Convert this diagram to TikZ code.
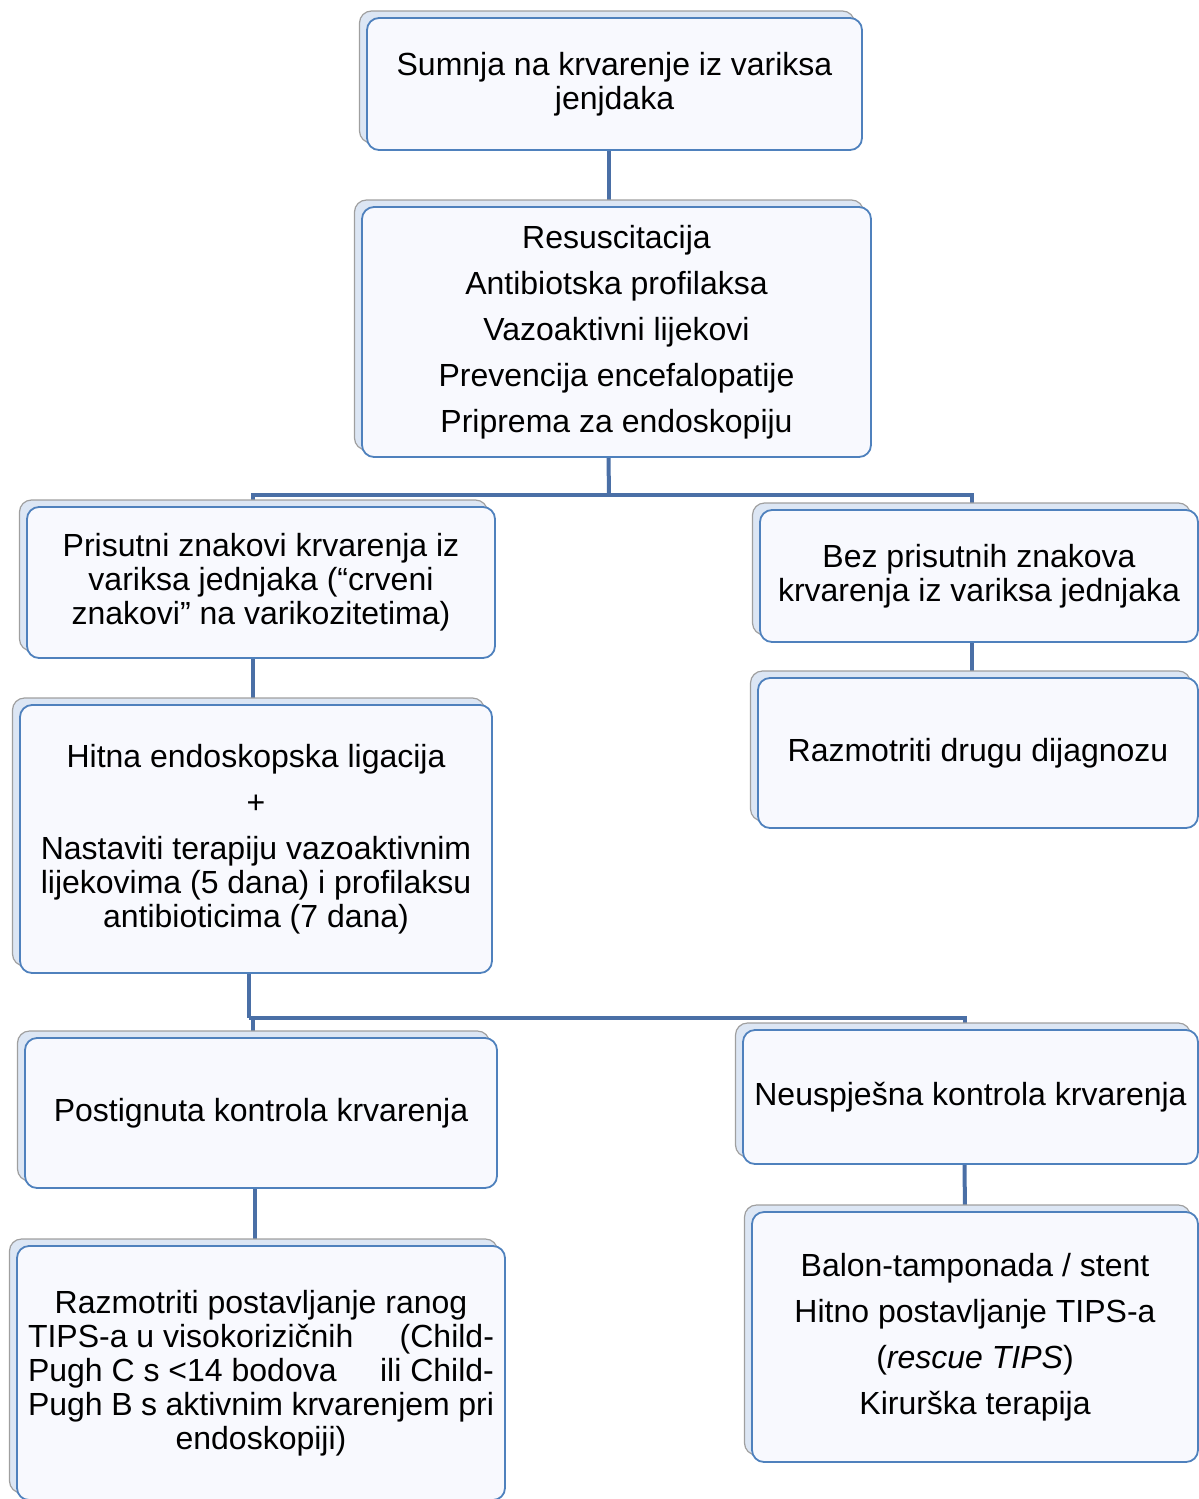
\documentclass[tikz,border=0pt]{standalone}
\usepackage{fontspec}
\setmainfont{Liberation Sans}
\usetikzlibrary{shadows,backgrounds}

\definecolor{boxline}{HTML}{4F81BD}
\definecolor{boxfill}{HTML}{F8F9FE}
\definecolor{backfill}{HTML}{DCE6F4}
\definecolor{connline}{HTML}{4A6FA6}

\begin{document}
\begin{tikzpicture}[x=0.5pt,y=-0.5pt,
  every node/.style={font=\fontsize{16}{17}\selectfont},
  card/.style={draw=boxline,line width=0.9pt,fill=boxfill,rounded corners=6pt,align=center,inner sep=0pt,
    copy shadow={shadow xshift=-3.75pt,shadow yshift=3.5pt,fill=backfill,draw=gray!75,line width=0.6pt}},
  conn/.style={draw=connline,line width=2pt}]
\clip (0,0) rectangle (1199,1499);
\useasboundingbox (0,0) rectangle (1199,1499);
% boxes
\node[card,minimum width=247.5pt,minimum height=66pt] (top) at (614.5,84){Sumnja na krvarenje iz variksa\\ jenjdaka};
\node[card,minimum width=254.5pt,minimum height=125pt] (resus) at (616.5,332){Resuscitacija\\[6pt] Antibiotska profilaksa\\[6pt] Vazoaktivni lijekovi\\[6pt] Prevencija encefalopatije\\[6pt] Priprema za endoskopiju};
\node[card,minimum width=234pt,minimum height=75.5pt] (prisutni) at (261,582.5){Prisutni znakovi krvarenja iz\\ variksa jednjaka (“crveni\\ znakovi” na varikozitetima)};
\node[card,minimum width=219pt,minimum height=66pt] (bez) at (979,576){Bez prisutnih znakova\\ krvarenja iz variksa jednjaka};
\node[card,minimum width=220pt,minimum height=75pt] (drugu) at (978,753){Razmotriti drugu dijagnozu};
\node[card,minimum width=236pt,minimum height=134pt] (hitna) at (256,839){Hitna endoskopska ligacija\\[6pt] +\\[6pt] Nastaviti terapiju vazoaktivnim\\ lijekovima (5 dana) i profilaksu\\ antibioticima (7 dana)};
\node[card,minimum width=236pt,minimum height=75pt] (postignuta) at (261,1113){Postignuta kontrola krvarenja};
\node[card,minimum width=227.5pt,minimum height=67pt] (neusp) at (970.5,1097){Neuspješna kontrola krvarenja};
\node[card,minimum width=244pt,minimum height=127pt] (tips) at (261,1373){Razmotriti postavljanje ranog\\
  \hbox to 233pt{TIPS-a u visokorizičnih\hfill(Child-}\\
  \hbox to 233pt{Pugh C s <14 bodova\hfill ili Child-}\\
  \hbox to 233pt{Pugh B s aktivnim krvarenjem pri}\\
  endoskopiji)};
\node[card,minimum width=223pt,minimum height=125pt] (balon) at (975,1337){Balon-tamponada / stent\\[6pt] Hitno postavljanje TIPS-a\\[6pt] (\textit{rescue TIPS})\\[6pt] Kirurška terapija};
% connectors
\coordinate (split1) at (609,495);
\coordinate (split2) at (249,1018);
\begin{scope}[on background layer]
\draw[conn] ([xshift=-3pt]top.south) -- ([xshift=-4pt]resus.north);
\draw[conn] ([xshift=-4pt]resus.south) -- (split1);
\draw[conn] (split1) -| ([xshift=-4pt]prisutni.north);
\draw[conn] (split1) -| ([xshift=-3.5pt]bez.north);
\draw[conn] ([xshift=-4pt]prisutni.south) -- ([xshift=-1.5pt]hitna.north);
\draw[conn] ([xshift=-3.5pt]bez.south) -- ([xshift=-3pt]drugu.north);
\draw[conn] ([xshift=-3.5pt]hitna.south) -- (split2);
\draw[conn] (split2) -| ([xshift=-4pt]postignuta.north);
\draw[conn] (split2) -| ([xshift=-3pt]neusp.north);
\draw[conn] ([xshift=-3pt]postignuta.south) -- ([xshift=-3pt]tips.north);
\draw[conn] ([xshift=-3pt]neusp.south) -- ([xshift=-5pt]balon.north);
\end{scope}
\end{tikzpicture}
\end{document}
